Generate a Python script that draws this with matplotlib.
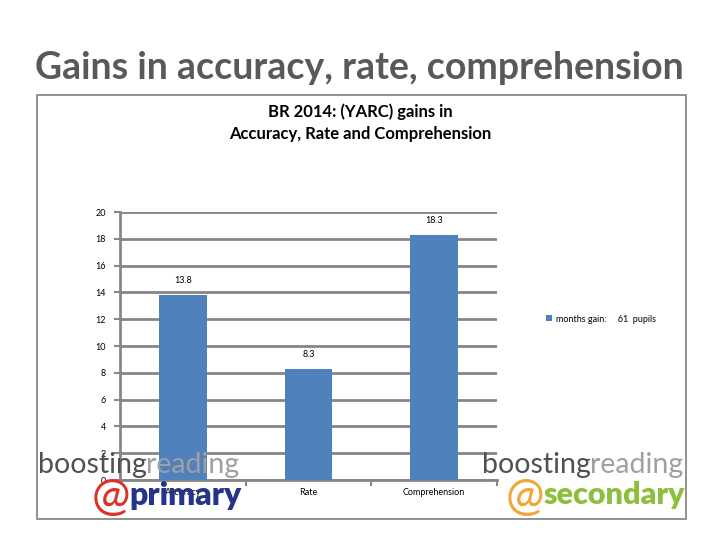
import matplotlib
matplotlib.use("Agg")
import matplotlib.pyplot as plt
from matplotlib.patches import Rectangle

categories = ["Accuracy", "Rate", "Comprehension"]
months_gain = [13.8, 8.3, 18.3]
y_ticks = [0, 2, 4, 6, 8, 10, 12, 14, 16, 18, 20]
legend_label = "months gain:     61  pupils"

W, H = 720, 540
plt.rcParams["font.family"] = ["Lato", "DejaVu Sans"]

fig = plt.figure(figsize=(7.2, 5.4), dpi=100)
fig.patch.set_facecolor("white")


def fx(px):
    return px / W


def fy(py):
    return 1 - py / H


# slide title
fig.text(fx(359), fy(68), "Gains in accuracy, rate, comprehension", ha="center", va="center",
         fontsize=27, fontweight="bold", color="#595959")

# chart frame
fig.patches.append(Rectangle((fx(37), fy(519)), fx(649), 424 / H, transform=fig.transFigure,
                             fill=False, edgecolor="#7f7f7f", lw=1.2))

# chart title
fig.text(fx(360), fy(112), "BR 2014: (YARC) gains in", ha="center", va="center",
         fontsize=12, fontweight="bold", color="black")
fig.text(fx(360), fy(134), "Accuracy, Rate and Comprehension", ha="center", va="center",
         fontsize=12, fontweight="bold", color="black")

ax = fig.add_axes([fx(120), fy(480), fx(497 - 120), (480 - 212) / H])
ax.patch.set_alpha(0)
x = list(range(len(categories)))
bars = ax.bar(x, months_gain, width=0.38, color="#4f81bd", zorder=3, label=legend_label)
ax.bar_label(bars, labels=[str(v) for v in months_gain], padding=7, fontsize=6.5)

ax.set_xlim(-0.5, 2.5)
ax.set_ylim(0, 20)
ax.set_yticks(y_ticks)
ax.set_yticklabels([str(t) for t in y_ticks], fontsize=6.5)
ax.grid(axis="y", color="#868686", lw=2, zorder=0)
ax.set_axisbelow(True)
ax.set_xticks(x)
ax.set_xticklabels(categories, fontsize=6.5)
ax.set_xticks([0.5, 1.5, 2.5], minor=True)
ax.tick_params(axis="x", which="major", length=0, pad=6)
ax.tick_params(axis="x", which="minor", length=4, color="#868686", width=1.5)
ax.tick_params(axis="y", length=4, color="#868686", width=1.5, pad=6)
for side in ["top", "right"]:
    ax.spines[side].set_visible(False)
for side in ["left", "bottom"]:
    ax.spines[side].set_color("#868686")
    ax.spines[side].set_linewidth(2)

ax.legend(loc="center left", bbox_to_anchor=(fx(538), fy(319)), bbox_transform=fig.transFigure,
          frameon=False, fontsize=6.5, handlelength=0.6, handleheight=0.6, handletextpad=0.5)

# logos as text: "boosting" dark + "reading" light, put side by side
renderer = fig.canvas.get_renderer()


def logo(x0, at_color, word, word_color, word_size):
    t = fig.text(fx(x0), fy(465), "boosting", ha="left", va="center", fontsize=20.5, color="#505050")
    bb = t.get_window_extent(renderer)
    fig.text(bb.x1 / W - 0.001, fy(465), "reading", ha="left", va="center", fontsize=20.5, color="#a0a0a0")
    a = fig.text(fx(x0 + 54 if word == "primary" else x0 + 24), fy(497), "@", ha="left", va="center",
                 fontsize=33, color=at_color)
    ab = a.get_window_extent(renderer)
    fig.text(ab.x1 / W - 0.002, fy(495), word, ha="left", va="center", fontsize=word_size,
             fontweight="heavy", color=word_color)


logo(38, "#d9332b", "primary", "#25338a", 23)
logo(482, "#f0a63a", "secondary", "#8cbf3c", 22)

fig.savefig("out.png", dpi=100)
